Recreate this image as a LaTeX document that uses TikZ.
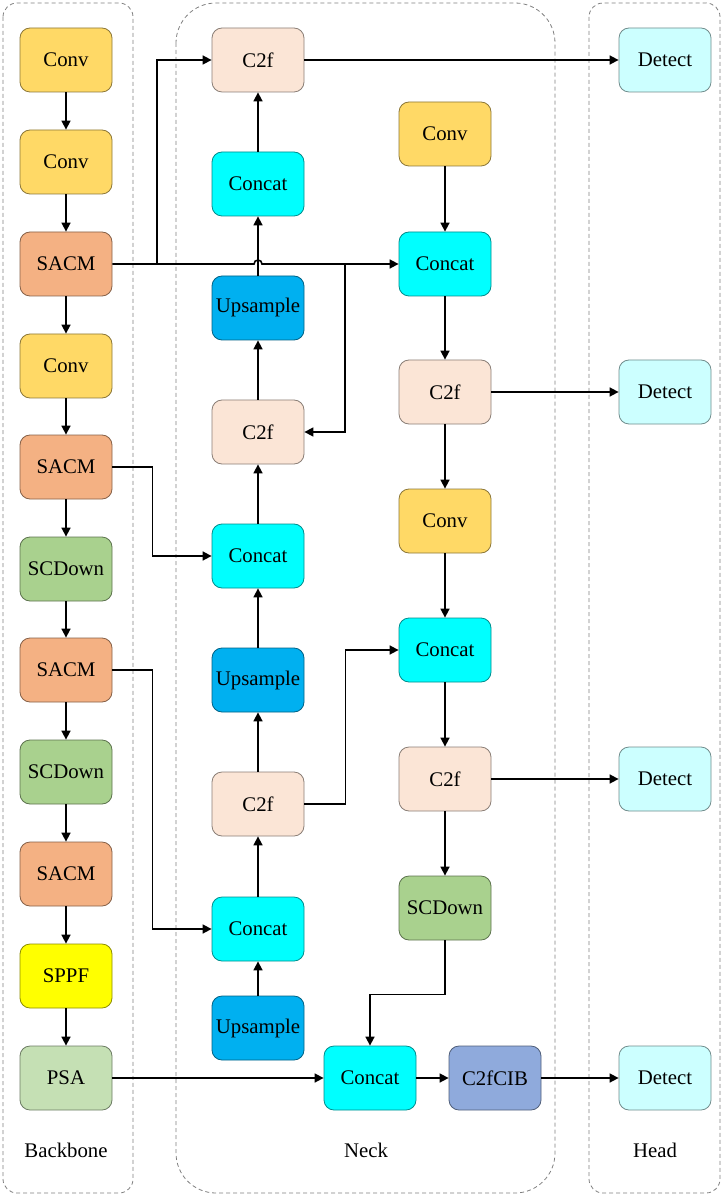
\documentclass[tikz,border=0pt]{standalone}
\usepackage{fontspec}
\setmainfont{Liberation Serif}
\usetikzlibrary{arrows.meta}
\definecolor{convc}{HTML}{FFD966}
\definecolor{sacmc}{HTML}{F4B183}
\definecolor{scdc}{HTML}{A9D18E}
\definecolor{sppfc}{HTML}{FFFF00}
\definecolor{psac}{HTML}{C5E0B4}
\definecolor{catc}{HTML}{00FFFF}
\definecolor{upc}{HTML}{00B0F0}
\definecolor{cfc}{HTML}{FBE5D6}
\definecolor{cibc}{HTML}{8FAADC}
\definecolor{detc}{HTML}{CCFFFF}

\begin{document}
\begin{tikzpicture}[x=0.5pt, y=-0.5pt,
  blk/.style={draw=#1!55!black, fill=#1, line width=0.4pt, rounded corners=5pt,
    minimum width=46pt, minimum height=32pt, inner sep=0pt,
    font=\fontsize{10.4}{12}\selectfont},
  arr/.style={-{Triangle[length=4.5pt,width=4.5pt]}, line width=0.8pt},
  zone/.style={draw=gray, dash pattern=on 2pt off 1.5pt, line width=0.4pt},
  zlabel/.style={font=\fontsize{10.4}{12}\selectfont}]
  \useasboundingbox (0,0) rectangle (723,1197);

  % zones
  \draw[zone, rounded corners=7pt] (3,3) rectangle (133,1193);
  \draw[zone, rounded corners=20pt] (176,3) rectangle (555,1193);
  \draw[zone, rounded corners=7pt] (589,3) rectangle (720,1193);
  \node[zlabel] (lbb) at (66,1150) {Backbone};
  \node[zlabel] (lneck) at (366,1150) {Neck};
  \node[zlabel] (lhead) at (655,1150) {Head};

  % backbone
  \node[blk=convc] (bconv1) at (66,60) {Conv};
  \node[blk=convc] (bconv2) at (66,162) {Conv};
  \node[blk=sacmc] (bsacm1) at (66,264) {SACM};
  \node[blk=convc] (bconv3) at (66,366) {Conv};
  \node[blk=sacmc] (bsacm2) at (66,467) {SACM};
  \node[blk=scdc] (bscd1) at (66,569) {SCDown};
  \node[blk=sacmc] (bsacm3) at (66,670) {SACM};
  \node[blk=scdc] (bscd2) at (66,772) {SCDown};
  \node[blk=sacmc] (bsacm4) at (66,874) {SACM};
  \node[blk=sppfc] (bsppf) at (66,976) {SPPF};
  \node[blk=psac] (bpsa) at (66,1078) {PSA};

  % neck, top-down path
  \node[blk=cfc] (nc2f1) at (258,60) {C2f};
  \node[blk=catc] (ncat1) at (258,184) {Concat};
  \node[blk=upc] (nup1) at (258,308) {Upsample};
  \node[blk=cfc] (nc2f2) at (258,432) {C2f};
  \node[blk=catc] (ncat2) at (258,556) {Concat};
  \node[blk=upc] (nup2) at (258,680) {Upsample};
  \node[blk=cfc] (nc2f3) at (258,804) {C2f};
  \node[blk=catc] (ncat3) at (258,929) {Concat};
  \node[blk=upc] (nup3) at (258,1028) {Upsample};

  % neck, bottom-up path
  \node[blk=convc] (nconv1) at (445,134) {Conv};
  \node[blk=catc] (ncat4) at (445,264) {Concat};
  \node[blk=cfc] (nc2f4) at (445,392) {C2f};
  \node[blk=convc] (nconv2) at (445,521) {Conv};
  \node[blk=catc] (ncat5) at (445,650) {Concat};
  \node[blk=cfc] (nc2f5) at (445,779) {C2f};
  \node[blk=scdc] (nscd) at (445,908) {SCDown};
  \node[blk=catc] (ncat6) at (370,1078) {Concat};
  \node[blk=cibc] (ncib) at (495,1078) {C2fCIB};

  % head
  \node[blk=detc] (d1) at (665,60) {Detect};
  \node[blk=detc] (d2) at (665,392) {Detect};
  \node[blk=detc] (d3) at (665,779) {Detect};
  \node[blk=detc] (d4) at (665,1078) {Detect};

  % straight links
  \foreach \a/\b in {bconv1/bconv2, bconv2/bsacm1, bsacm1/bconv3, bconv3/bsacm2,
      bsacm2/bscd1, bscd1/bsacm3, bsacm3/bscd2, bscd2/bsacm4, bsacm4/bsppf, bsppf/bpsa,
      nup3/ncat3, ncat3/nc2f3, nc2f3/nup2, nup2/ncat2, ncat2/nc2f2, nc2f2/nup1,
      nup1/ncat1, ncat1/nc2f1,
      nconv1/ncat4, ncat4/nc2f4, nc2f4/nconv2, nconv2/ncat5, ncat5/nc2f5, nc2f5/nscd,
      bpsa/ncat6, ncat6/ncib,
      nc2f1/d1, nc2f4/d2, nc2f5/d3, ncib/d4}
    \draw[arr] (\a) -- (\b);

  % SACM1 line with its branches
  \coordinate (s1) at (157,264);
  \coordinate (s2) at (345,264);
  \draw[arr] (bsacm1.east) -- (254,264) arc[start angle=180, end angle=360, radius=4]
    -- (ncat4.west);
  \draw[arr] (s1) |- (nc2f1.west);
  \draw[arr] (s2) |- (nc2f2.east);

  % lateral links
  \draw[arr] (bsacm2.east) -- ++(40,0) |- (ncat2.west);
  \draw[arr] (bsacm3.east) -- ++(40,0) |- (ncat3.west);
  \draw[arr] (nc2f3.east) -- ++(41,0) |- (ncat5.west);
  \draw[arr] (nscd.south) -- ++(0,54) -| (ncat6.north);
\end{tikzpicture}
\end{document}
